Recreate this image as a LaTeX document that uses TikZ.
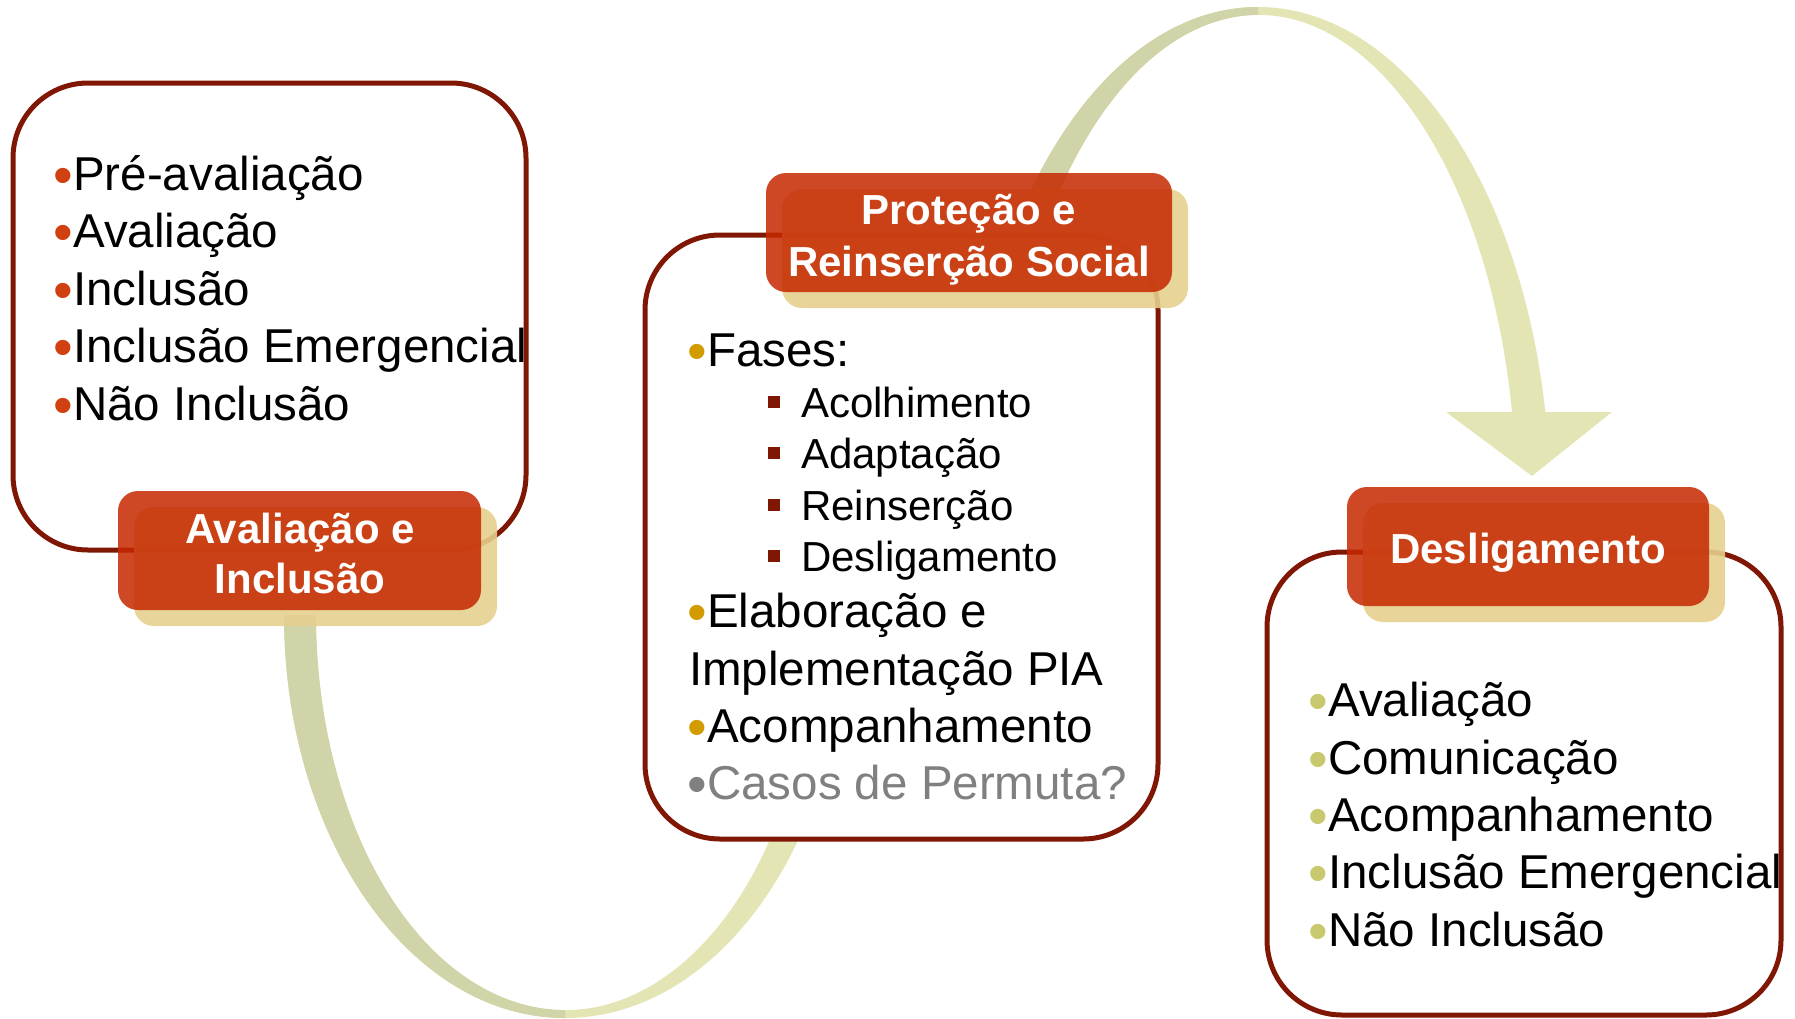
\documentclass[tikz,border=0pt]{standalone}
\usepackage{fontspec}
\setmainfont{Liberation Sans}
\definecolor{brd}{RGB}{128,22,4}
\definecolor{lab}{RGB}{198,40,0}
\definecolor{shd}{RGB}{230,208,142}
\definecolor{bandD}{RGB}{209,211,168}
\definecolor{bandL}{RGB}{228,229,180}
\definecolor{bulR}{RGB}{208,64,16}
\definecolor{bulG}{RGB}{210,155,0}
\definecolor{bulY}{RGB}{200,200,110}
\definecolor{sqr}{RGB}{128,22,4}
\definecolor{gry}{RGB}{128,128,128}
\newcommand\mybul[1]{{\color{#1}\fontsize{56}{56}\selectfont\raisebox{-4pt}{•}}}
\newcommand\mysq{{\color{sqr}\rule[9pt]{12pt}{12pt}}\hspace{21pt}}
\tikzset{
  bigbox/.style={draw=brd, line width=5pt, fill=white, rounded corners=75pt, inner sep=0pt},
  redlab/.style={fill=lab, fill opacity=0.85, rounded corners=20pt, inner sep=0pt, minimum height=119pt},
  shadlab/.style={fill=shd, fill opacity=0.9, rounded corners=20pt, inner sep=0pt, minimum height=119pt},
  itm/.style={anchor=base west, inner sep=0pt, font=\fontsize{47.5}{47.5}\selectfont},
  subitm/.style={anchor=base west, inner sep=0pt, font=\fontsize{42}{42}\selectfont},
  lbl/.style={anchor=base, inner sep=0pt, text=white, font=\fontsize{42}{42}\selectfont\bfseries},
}
\begin{document}
\begin{tikzpicture}[x=1pt,y=-1pt]
\useasboundingbox (0,0) rectangle (1795,1018);
% top band with arrow
\fill[bandL] (966,500) arc[start angle=-180,end angle=-10.28,x radius=292,y radius=493]
  -- (1612,412) -- (1532,476) -- (1446,412) -- (1512,412)
  arc[start angle=-10.45,end angle=-180,x radius=258,y radius=485] -- cycle;
\begin{scope}
\clip (0,0) rectangle (1258,1018);
\fill[bandD] (966,500) arc[start angle=-180,end angle=-10.28,x radius=292,y radius=493]
  -- (1612,412) -- (1532,476) -- (1446,412) -- (1512,412)
  arc[start angle=-10.45,end angle=-180,x radius=258,y radius=485] -- cycle;
\end{scope}
% bottom band
\fill[bandL] (284,615) arc[start angle=180,end angle=-30,x radius=281,y radius=403]
  -- (780.6,417.5) arc[start angle=-30,end angle=180,x radius=249,y radius=395] -- cycle;
\begin{scope}
\clip (0,0) rectangle (565,1018);
\fill[bandD] (284,615) arc[start angle=180,end angle=-30,x radius=281,y radius=403]
  -- (780.6,417.5) arc[start angle=-30,end angle=180,x radius=249,y radius=395] -- cycle;
\end{scope}
% boxes
\node[bigbox, minimum width=513pt, minimum height=467pt] (boxA) at (269.5,316.5) {};
\node[bigbox, minimum width=513pt, minimum height=604pt] (boxB) at (901.5,537) {};
\node[bigbox, minimum width=514pt, minimum height=463pt] (boxC) at (1524,783.5) {};
% label shadows
\node[shadlab, minimum width=363pt] (shA) at (315.5,566.5) {};
\node[shadlab, minimum width=406pt] (shB) at (985,248.5) {};
\node[shadlab, minimum width=362pt] (shC) at (1544,562.5) {};
% labels
\node[redlab, minimum width=363pt] (labA) at (299.5,550.5) {};
\node[redlab, minimum width=406pt] (labB) at (969,232.5) {};
\node[redlab, minimum width=362pt] (labC) at (1528,546.5) {};
\node[lbl] (ta1) at (300,543) {Avaliação e};
\node[lbl] (ta2) at (300,593) {Inclusão};
\node[lbl] (tb1) at (969,224) {Proteção e};
\node[lbl] (tb2) at (969,276) {Reinserção Social};
\node[lbl] (tc1) at (1528,563) {Desligamento};
% left box items
\node[itm] (a1) at (53.4,190) {\mybul{bulR}Pré-avaliação};
\node[itm] (a2) at (53.4,247.5) {\mybul{bulR}Avaliação};
\node[itm] (a3) at (53.4,305) {\mybul{bulR}Inclusão};
\node[itm] (a4) at (53.4,362.5) {\mybul{bulR}Inclusão Emergencial};
\node[itm] (a5) at (53.4,420) {\mybul{bulR}Não Inclusão};
% middle box items
\node[itm] (b1) at (687.4,366) {\mybul{bulG}Fases:};
\node[subitm] (b2) at (768,417) {\mysq Acolhimento};
\node[subitm] (b3) at (768,468) {\mysq Adaptação};
\node[subitm] (b4) at (768,520) {\mysq Reinserção};
\node[subitm] (b5) at (768,571) {\mysq Desligamento};
\node[itm] (b6) at (687.4,627) {\mybul{bulG}Elaboração e};
\node[itm] (b7) at (689,685) {Implementação PIA};
\node[itm] (b8) at (687.4,742) {\mybul{bulG}Acompanhamento};
\node[itm, text=gry] (b9) at (687.4,799) {\mybul{gry}Casos de Permuta?};
% right box items
\node[itm] (c1) at (1308.4,716) {\mybul{bulY}Avaliação};
\node[itm] (c2) at (1308.4,774) {\mybul{bulY}Comunicação};
\node[itm] (c3) at (1308.4,831) {\mybul{bulY}Acompanhamento};
\node[itm] (c4) at (1308.4,888) {\mybul{bulY}Inclusão Emergencial};
\node[itm] (c5) at (1308.4,946) {\mybul{bulY}Não Inclusão};
\end{tikzpicture}
\end{document}
